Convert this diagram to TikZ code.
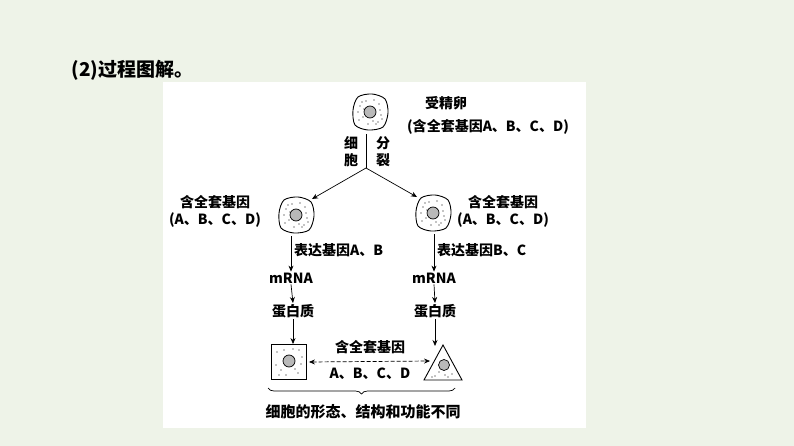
\documentclass[tikz,border=0pt]{standalone}
\usepackage{fontspec}
\setmainfont{Liberation Serif}
\newfontfamily\cjk{Noto Sans CJK SC}
\usetikzlibrary{decorations.pathreplacing,arrows.meta}
\definecolor{pagebg}{HTML}{EEF3E8}
\tikzset{
  lbl/.style={font=\cjk\fontsize{14}{17}\selectfont\bfseries, inner sep=1pt},
  arr/.style={-{Stealth[length=6pt,width=5pt]}, line width=0.7pt},
  nuc/.style={fill=gray!55, draw=black, line width=0.7pt},
}
\newcommand{\cellblob}[2]{%
  \draw[line width=0.9pt,fill=white] plot[smooth cycle] coordinates {(#1-17,#2-2) (#1-12,#2-15) (#1+2,#2-18) (#1+15,#2-13) (#1+18,#2+1) (#1+13,#2+15) (#1-2,#2+18) (#1-15,#2+13)};
  \foreach \dx/\dy in {-10/-6,-7/5,-4/-11,4/-12,9/-8,11/3,8/10,-2/12,-11/8,-12/0,6/12,-6/-3,3/9,10/-2,-8/-10,12/7}
    \fill (#1+\dx,#2+\dy) circle (0.55);
  \draw[nuc] (#1,#2) circle (6);
}
\begin{document}
\begin{tikzpicture}[x=1pt,y=-1pt]
\fill[pagebg] (0,0) rectangle (794,446);
\fill[white] (163,82) rectangle (586,428);
\node[font=\cjk\fontsize{19}{20}\selectfont\bfseries, anchor=west] (title) at (68,70) {(2)过程图解。};
% top cell
\cellblob{370}{112}
\node[lbl] (zyg) at (446,103) {受精卵};
\node[lbl] (zygg) at (488,127) {(含全套基因A、B、C、D)};
\coordinate (t1) at (366,134);
\coordinate (fork) at (366,168);
\draw[line width=0.7pt] (t1) -- (fork);
\node[lbl, align=center] (xb) at (351,152) {细\\胞};
\node[lbl, align=center] (fl) at (383,152) {分\\裂};
\cellblob{296}{215}
\cellblob{433}{213}
\draw[arr] (fork) -- (312,199);
\draw[arr] (fork) -- (417,197);
\node[lbl, align=center] (lt) at (215,211) {含全套基因\\(A、B、C、D)};
\node[lbl, align=center] (rt) at (503,211) {含全套基因\\(A、B、C、D)};
\node[lbl] (lm) at (291,278) {mRNA};
\node[lbl] (lp) at (293,311) {蛋白质};
\node[lbl] (rm) at (434,278) {mRNA};
\node[lbl] (rp) at (435,311) {蛋白质};
\coordinate (l0) at (291,236);
\coordinate (r0) at (434,234);
\draw[arr] (l0) -- (lm.north);
\draw[arr] (r0) -- (rm.north);
\node[lbl, anchor=west] (le) at (293,250) {表达基因A、B};
\node[lbl, anchor=west] (re) at (436,250) {表达基因B、C};
\draw[arr] (lm.south) -- (lp.north);
\draw[arr] (rm.south) -- (rp.north);
% bottom shapes
\node[draw, line width=0.9pt, minimum size=35pt, inner sep=0pt] (sq) at (289,362) {};
\foreach \dx/\dy in {-12/-10,-8/8,-13/3,10/-12,12/2,9/11,-3/13,4/-13,-10/13,13/-5,6/7,-5/-12}
  \fill (289+\dx,362+\dy) circle (0.55);
\draw[nuc] (289,361) circle (6);
\draw[line width=0.9pt] (443,345) -- (462,380) -- (424,380) -- cycle;
\foreach \dx/\dy in {-8/14,-4/10,5/15,9/12,-11/15,2/13}
  \fill (443+\dx,362+\dy) circle (0.55);
\draw[nuc] (444,365) circle (5.5);
\coordinate (tri) at (430,361);
\draw[arr] (lp.south) -- (lp.south |- sq.north);
\draw[arr] (rp.south) -- (435,346);
\draw[{Stealth[length=6pt,width=5pt]}-{Stealth[length=6pt,width=5pt]}, dash pattern=on 4pt off 2pt, line width=0.7pt] (sq.east) ++(2,0) -- (tri);
\node[lbl] (mid1) at (370,347) {含全套基因};
\node[lbl] (mid2) at (370,374) {A、B、C、D};
\draw[decorate, decoration={brace, amplitude=6pt}, line width=0.7pt] (455,388) -- (268,388);
\node[lbl, font=\cjk\fontsize{15}{17}\selectfont\bfseries] (bot) at (363,412) {细胞的形态、结构和功能不同};
\end{tikzpicture}
\end{document}
